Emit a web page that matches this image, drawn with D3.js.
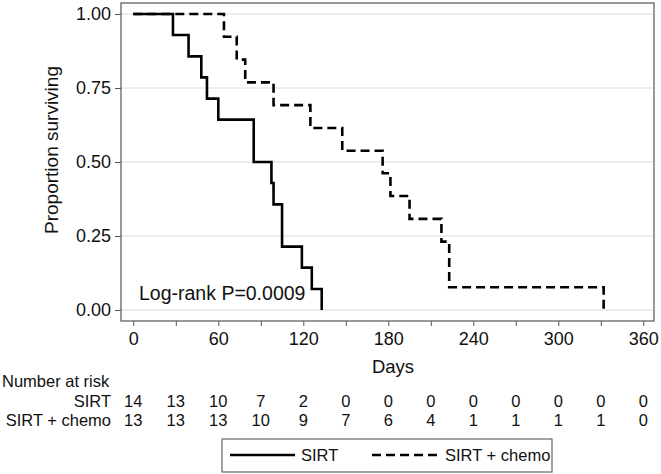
<!DOCTYPE html>
<html><head><meta charset="utf-8">
<script src="https://cdn.jsdelivr.net/npm/d3@7"></script>
<style>
html,body{margin:0;padding:0;background:#fff;}
svg{display:block;font-family:"Liberation Sans",Arial,Helvetica,sans-serif;}
</style></head>
<body>
<svg id="chart" width="661" height="474"></svg>
<script>
// ---- data ----
const sirtTimes = [28, 39, 48, 52, 60, 85, 97.5, 99, 105, 119, 126, 133];
const sirtSurv  = [0.929, 0.857, 0.786, 0.714, 0.643, 0.5, 0.429, 0.357, 0.214, 0.143, 0.071, 0];
const chemoTimes = [64, 73, 79, 99, 125, 147.5, 176, 181.5, 195, 217.5, 223, 332];
const chemoSurv  = [0.923, 0.846, 0.769, 0.692, 0.615, 0.538, 0.462, 0.385, 0.308, 0.231, 0.077, 0];
const xTicks = [0, 60, 120, 180, 240, 300, 360];
const xMinorTicks = [30, 90, 150, 210, 270, 330];
const yTicks = [0, 0.25, 0.5, 0.75, 1];
const riskTimes = [0, 30, 60, 90, 120, 150, 180, 210, 240, 270, 300, 330, 360];
const riskSirt  = [14, 13, 10, 7, 2, 0, 0, 0, 0, 0, 0, 0, 0];
const riskChemo = [13, 13, 13, 10, 9, 7, 6, 4, 1, 1, 1, 1, 0];
const groupNames = ["SIRT", "SIRT + chemo"];

const svg = d3.select("#chart");
const x = d3.scaleLinear().domain([0, 360]).range([133.3, 643.3]);
const y = d3.scaleLinear().domain([0, 1]).range([310, 14]);
const frame = {l: 121, t: 3, r: 654, b: 321};

// gridlines
svg.append("g").selectAll("line").data(yTicks).join("line")
  .attr("x1", frame.l).attr("x2", frame.r)
  .attr("y1", d => y(d)).attr("y2", d => y(d))
  .attr("stroke", "#dcdcdc").attr("stroke-width", 1.2);

// axes
const yAxis = d3.axisLeft(y).tickValues(yTicks).tickFormat(d3.format(".2f")).tickSize(6).tickPadding(4);
const gy = svg.append("g").attr("transform", `translate(${frame.l},0)`).call(yAxis);
gy.select(".domain").remove();
gy.selectAll("line").attr("stroke", "#555");
gy.selectAll("text").attr("font-size", 18).attr("fill", "#111").attr("font-family", "Liberation Sans, Arial, sans-serif");

const xAxis = d3.axisBottom(x).tickValues(xTicks).tickFormat(d3.format("d")).tickSize(5).tickPadding(6);
const gx = svg.append("g").attr("transform", `translate(0,${frame.b})`).call(xAxis);
gx.select(".domain").remove();
gx.selectAll("line").attr("stroke", "#555");
gx.selectAll("text").attr("font-size", 18).attr("fill", "#111").attr("font-family", "Liberation Sans, Arial, sans-serif");
const gxm = svg.append("g").attr("transform", `translate(0,${frame.b})`)
  .call(d3.axisBottom(x).tickValues(xMinorTicks).tickFormat("").tickSize(5));
gxm.select(".domain").remove();
gxm.selectAll("line").attr("stroke", "#555");

// frame
svg.append("rect").attr("x", frame.l).attr("y", frame.t)
  .attr("width", frame.r - frame.l).attr("height", frame.b - frame.t)
  .attr("fill", "none").attr("stroke", "#555").attr("stroke-width", 1.2);

// KM step curves
function kmPoints(times, surv) {
  const pts = [[0, 1]];
  let prev = 1;
  times.forEach((t, i) => { pts.push([t, prev]); pts.push([t, surv[i]]); prev = surv[i]; });
  return pts;
}
const line = d3.line().x(d => x(d[0])).y(d => y(d[1]));
svg.append("path").datum(kmPoints(chemoTimes, chemoSurv)).attr("d", line)
  .attr("fill", "none").attr("stroke", "#000").attr("stroke-width", 2.6)
  .attr("stroke-dasharray", "9,5");
svg.append("path").datum(kmPoints(sirtTimes, sirtSurv)).attr("d", line)
  .attr("fill", "none").attr("stroke", "#000").attr("stroke-width", 2.6);

// annotation
svg.append("text").attr("x", 139).attr("y", 300).attr("font-size", 19.5).attr("fill", "#111")
  .text("Log-rank P=0.0009");

// axis titles
svg.append("text").attr("x", 393).attr("y", 373).attr("text-anchor", "middle")
  .attr("font-size", 18.5).attr("fill", "#111").text("Days");
svg.append("text").attr("transform", "translate(58,150) rotate(-90)").attr("text-anchor", "middle")
  .attr("font-size", 19).attr("fill", "#111").text("Proportion surviving");

// number at risk table
svg.append("text").attr("x", 2).attr("y", 387).attr("font-size", 16.5).attr("fill", "#111").text("Number at risk");
const rows = [riskSirt, riskChemo];
const rowY = [406.5, 426];
rows.forEach((vals, ri) => {
  svg.append("text").attr("x", 111).attr("y", rowY[ri]).attr("text-anchor", "end")
    .attr("font-size", 16.5).attr("fill", "#111").text(groupNames[ri]);
  svg.append("g").selectAll("text").data(vals).join("text")
    .attr("x", (d, i) => x(riskTimes[i])).attr("y", rowY[ri])
    .attr("text-anchor", "middle").attr("font-size", 16.5).attr("fill", "#111")
    .text(d => d);
});

// legend
const lg = svg.append("g");
lg.append("rect").attr("x", 222).attr("y", 439).attr("width", 330).attr("height", 33)
  .attr("fill", "#fff").attr("stroke", "#666").attr("stroke-width", 1.2);
lg.append("line").attr("x1", 230).attr("x2", 295).attr("y1", 455).attr("y2", 455)
  .attr("stroke", "#000").attr("stroke-width", 2.6);
lg.append("text").attr("x", 301).attr("y", 461).attr("font-size", 16.5).attr("fill", "#111").text(groupNames[0]);
lg.append("line").attr("x1", 372).attr("x2", 438).attr("y1", 455).attr("y2", 455)
  .attr("stroke", "#000").attr("stroke-width", 2.6).attr("stroke-dasharray", "9,5");
lg.append("text").attr("x", 445).attr("y", 461).attr("font-size", 16.5).attr("fill", "#111").text(groupNames[1]);
</script>
</body></html>
